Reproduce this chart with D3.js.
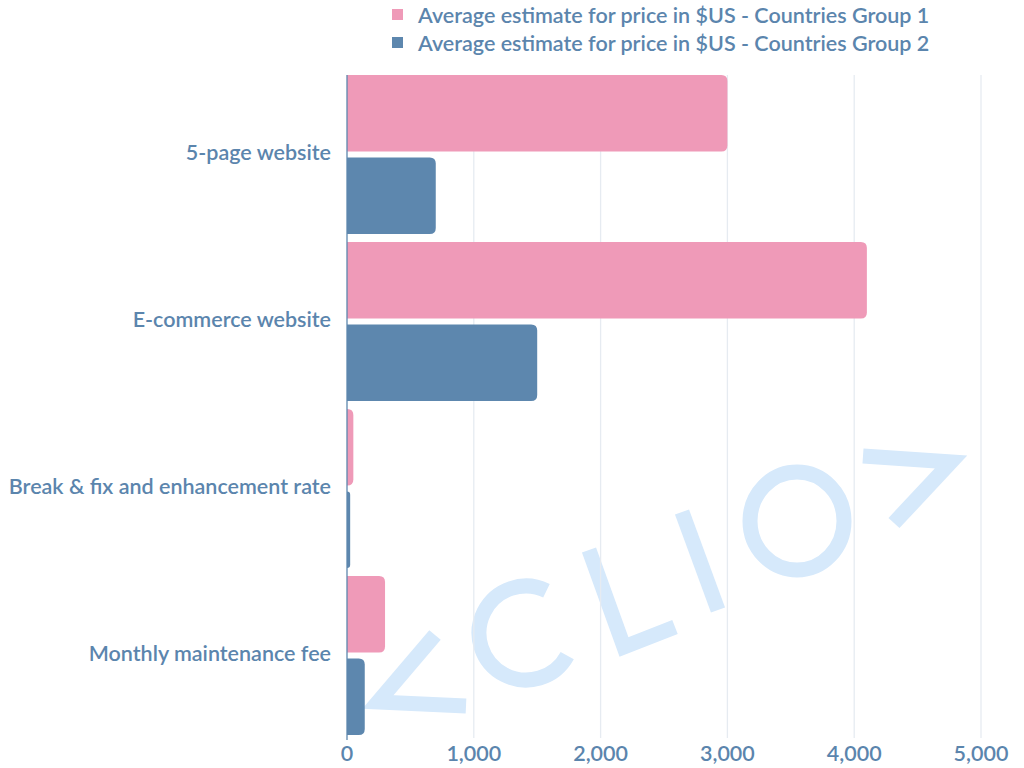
<!DOCTYPE html>
<html><head><meta charset="utf-8">
<script src="https://cdn.jsdelivr.net/npm/d3@7/dist/d3.min.js"></script>
<style>body{margin:0;background:#fff;} svg{display:block;}</style>
</head><body>
<svg id="c" width="1024" height="768"></svg>
<script>
const categories = ["5-page website","E-commerce website","Break & fix and enhancement rate","Monthly maintenance fee"];
const seriesNames = ["Average estimate for price in $US - Countries Group 1","Average estimate for price in $US - Countries Group 2"];
const group1 = [3000, 4100, 50, 300];
const group2 = [700, 1500, 25, 140];
const xTicks = [0,1000,2000,3000,4000,5000];
const colors = ["#ef9ab8","#5d87ae"];
const textColor = "#5b85ad";
const font = "Lato, 'Open Sans', sans-serif";

const svg = d3.select("#c");
const x = d3.scaleLinear().domain([0,5000]).range([347,981]);
const y = d3.scaleBand().domain(categories).range([75,735]).paddingInner(0.048).paddingOuter(0);
const yi = d3.scaleBand().domain([0,1]).range([0,y.bandwidth()]).paddingInner(0.075);

// watermark (decoration)
const wm = svg.append("g").attr("fill","none").attr("stroke","#d6e9fb").attr("stroke-width",15).attr("stroke-linejoin","miter");
wm.append("path").attr("d","M435,635 L378,702 L466,706");
const cArc = d3.path(); cArc.arc(526,633,47,-1.12,0.5,true);
wm.append("path").attr("d",cArc.toString());
wm.append("path").attr("d","M589,550 L624,647 L675,627");
wm.append("path").attr("d","M682,512 L718,610");
wm.append("ellipse").attr("cx",797).attr("cy",521).attr("rx",47).attr("ry",49);
wm.append("path").attr("d","M863,456 L951,462 L894,523");

// gridlines
svg.append("g").selectAll("line").data(xTicks.slice(1)).join("line")
  .attr("x1",d=>x(d)).attr("x2",d=>x(d)).attr("y1",75).attr("y2",738)
  .attr("stroke","#e6ebf1").attr("stroke-width",1.3);

function barPath(x0,x1,y0,h,r){
  const w = x1-x0; r = Math.min(r, w, h/2);
  return `M${x0},${y0} H${x1-r} Q${x1},${y0} ${x1},${y0+r} V${y0+h-r} Q${x1},${y0+h} ${x1-r},${y0+h} H${x0} Z`;
}
const data = categories.map((c,i)=>({c, vals:[group1[i],group2[i]]}));
const gBars = svg.append("g");
data.forEach(d=>{
  d.vals.forEach((v,j)=>{
    gBars.append("path")
      .attr("d", barPath(x(0), x(v), y(d.c)+yi(j), yi.bandwidth(), 6))
      .attr("fill", colors[j]);
  });
});

// y axis line
svg.append("line").attr("x1",347).attr("x2",347).attr("y1",75).attr("y2",740).attr("stroke","#5d87ae").attr("stroke-width",1.3);

// category labels
svg.append("g").selectAll("text").data(categories).join("text")
  .attr("x",331).attr("y",d=>y(d)+y.bandwidth()/2-2).attr("dy","0.35em")
  .attr("text-anchor","end").attr("fill",textColor)
  .attr("font-family",font).attr("font-size",21.5).attr("font-weight",600).text(d=>d);

// x tick labels
const fmt = d3.format(",");
svg.append("g").selectAll("text").data(xTicks).join("text")
  .attr("x",d=>x(d)).attr("y",753).attr("dy","0.35em").attr("text-anchor","middle")
  .attr("fill",textColor).attr("font-family",font).attr("font-size",21.5).attr("font-weight",600).text(d=>fmt(d));

// legend
const lg = svg.append("g");
seriesNames.forEach((s,i)=>{
  lg.append("rect").attr("x",392).attr("y",9+i*28).attr("width",11).attr("height",11).attr("fill",colors[i]);
  lg.append("text").attr("x",418).attr("y",15+i*28).attr("dy","0.35em").attr("fill",textColor)
    .attr("font-family",font).attr("font-size",21.5).attr("font-weight",600).text(s);
});
</script>
</body></html>
